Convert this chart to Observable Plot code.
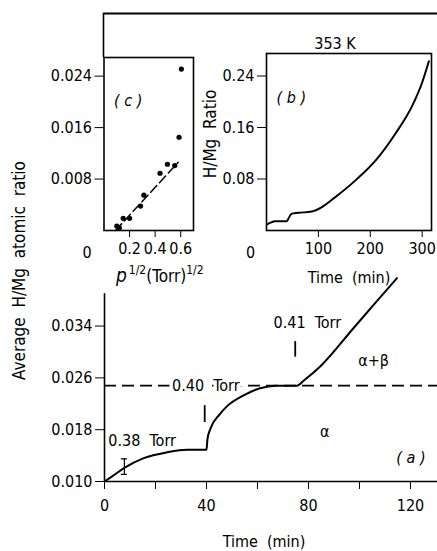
<!DOCTYPE html>
<html><head><meta charset="utf-8">
<script src="https://cdn.jsdelivr.net/npm/d3@7"></script>
<script src="https://cdn.jsdelivr.net/npm/@observablehq/plot@0.6"></script>
<style>
body{margin:0;background:#fff;}
#wrap{position:relative;width:437px;height:551px;overflow:hidden;background:#fff;}
#wrap svg{position:absolute;left:0;top:0;}
</style></head><body><div id="wrap"></div>
<script>
// ---------- Panel (a): average H/Mg ratio vs time ----------
const timeA  = [0, 3, 7.8, 15.4, 24.5, 32.4, 40, 40.4, 41.6, 45, 48, 54.6, 61, 67, 75.5, 78.2, 84.7, 97.7, 106.9, 114.7];
const ratioA = [0.010, 0.0108, 0.0121, 0.0136, 0.0145, 0.0149, 0.0149, 0.0166, 0.0182, 0.0203, 0.0216, 0.0233, 0.0244, 0.0248, 0.0248, 0.0256, 0.0278, 0.0337, 0.0379, 0.0414];
const boundaryA = 0.0248;              // alpha / alpha+beta boundary
const axisTopA = 0.039;
const errT = [7.8], errLo = [0.0111], errHi = [0.0135];
const errCapHalf = 1.2;
const markT = [39.3, 74.8], markLo = [0.0191, 0.0292], markHi = [0.0217, 0.0316];
const annText = ["0.38\u00a0\u00a0Torr", "0.40\u00a0\u00a0Torr", "0.41\u00a0\u00a0Torr", "\u03b1+\u03b2", "\u03b1"];
const annT    = [1.5, 26.5, 66.3, 99.5, 84.5];
const annV    = [0.0163, 0.0248, 0.0345, 0.0287, 0.0176];
const xTicksA = [0, 20, 40, 60, 80, 100, 120];
const xLabelsA = [0, 40, 80, 120];
const yTicksA = [0.010, 0.018, 0.026, 0.034];

// ---------- Panel (b): H/Mg ratio vs time at 353 K ----------
const timeB  = [1, 3, 16, 39, 42, 48, 61, 87, 106, 132, 171, 210, 248, 281, 300, 313];
const ratioB = [0.0095, 0.0102, 0.0143, 0.0143, 0.018, 0.0258, 0.0274, 0.0294, 0.036, 0.0515, 0.0775, 0.1085, 0.150, 0.194, 0.230, 0.263];
const xTicksB = [100, 200, 300];
const yTicksB = [0.08, 0.16, 0.24];

// ---------- Panel (c): H/Mg vs p^1/2 ----------
const sqrtP  = [0.10, 0.12, 0.15, 0.20, 0.286, 0.312, 0.438, 0.496, 0.553, 0.587, 0.605];
const ratioC = [0.0007, 0.0004, 0.0019, 0.0019, 0.0038, 0.0055, 0.0089, 0.0103, 0.0101, 0.0145, 0.0251];
const fitP = [0.09, 0.58], fitH = [0.0, 0.0106];
const xTicksC = [0.2, 0.4, 0.6];
const yTicksC = [0.008, 0.016, 0.024];

const FONT = "'DejaVu Sans Condensed','DejaVu Sans',sans-serif";
const W = 437, H = 551;
const baseStyle = {fontFamily: FONT, fontSize: "16px", background: "transparent", color: "#000", overflow: "visible"};
const wrap = document.getElementById("wrap");
const T = {fontSize: 16, lineAnchor: "middle"};

const curveA = timeA.map((t, i) => ({t, v: ratioA[i]}));
const annA = annText.map((label, i) => ({label, t: annT[i], v: annV[i]}));
const errA = errT.map((t, i) => ({t, lo: errLo[i], hi: errHi[i]}));
const marksA = markT.map((t, i) => ({t, lo: markLo[i], hi: markHi[i]}));

const plotA = Plot.plot({
  width: W, height: H,
  marginLeft: 104, marginRight: 0, marginTop: 277, marginBottom: 70,
  style: baseStyle,
  x: {type: "linear", domain: [0, 130.6], ticks: xTicksA, tickFormat: d => xLabelsA.includes(d) ? String(d) : "", tickSize: 8, tickPadding: 10, label: null},
  y: {type: "linear", domain: [0.010, 0.0415], ticks: yTicksA, tickFormat: d3.format(".3f"), tickSize: 9, tickPadding: 3, label: null},
  marks: [
    Plot.ruleY([boundaryA], {strokeDasharray: "12,6", strokeWidth: 1.6}),
    Plot.text(annA, {...T, x: "t", y: "v", text: "label", textAnchor: "start", fill: "white", stroke: "white", strokeWidth: 7}),
    Plot.text(annA, {...T, x: "t", y: "v", text: "label", textAnchor: "start", fill: "black"}),
    Plot.text(["( a )"], {...T, frameAnchor: "bottom-right", dx: -12, dy: -24, fontStyle: "italic", textAnchor: "end"}),
    Plot.ruleX([0], {y1: 0.010, y2: axisTopA, strokeWidth: 1.6}),
    Plot.ruleY([0.010], {strokeWidth: 1.6}),
    Plot.ruleX(errA, {x: "t", y1: "lo", y2: "hi", strokeWidth: 1.2}),
    Plot.ruleY(errA, {y: "lo", x1: d => d.t - errCapHalf, x2: d => d.t + errCapHalf, strokeWidth: 1.2}),
    Plot.ruleY(errA, {y: "hi", x1: d => d.t - errCapHalf, x2: d => d.t + errCapHalf, strokeWidth: 1.2}),
    Plot.ruleX(marksA, {x: "t", y1: "lo", y2: "hi", strokeWidth: 1.8}),
    Plot.line(curveA, {x: "t", y: "v", curve: "monotone-x", strokeWidth: 2}),
    Plot.text(["Average\u00a0\u00a0H/Mg\u00a0\u00a0atomic\u00a0\u00a0ratio"], {...T, fontSize: 17, frameAnchor: "top-left", textAnchor: "middle", rotate: -90, dx: -85, dy: -7}),
    Plot.text(["Time\u00a0\u00a0(min)"], {...T, frameAnchor: "bottom", textAnchor: "middle", dx: -7, dy: 60})
  ]
});
wrap.appendChild(plotA);

// header frame with 353 K
const plotH = Plot.plot({
  width: W, height: H, marginLeft: 103, marginRight: 0, marginTop: 13, marginBottom: 494,
  style: baseStyle,
  x: {domain: [0, 1], axis: null}, y: {domain: [0, 1], axis: null},
  marks: [Plot.ruleY([1], {strokeWidth: 1.8}), Plot.ruleX([0], {strokeWidth: 1.6})]
});
wrap.appendChild(plotH);

// panel b
const curveB = timeB.map((t, i) => ({t, v: ratioB[i]}));
const plotB = Plot.plot({
  width: W, height: H, marginLeft: 266, marginRight: 6, marginTop: 53, marginBottom: 321,
  style: baseStyle,
  x: {domain: [0, 318], ticks: xTicksB, tickSize: 7, tickPadding: 5, label: null},
  y: {domain: [0, 0.275], ticks: yTicksB, tickFormat: d3.format(".2f"), tickSize: 9, tickPadding: 3, label: null},
  marks: [
    Plot.frame({strokeWidth: 1.6}),
    Plot.line(curveB, {x: "t", y: "v", curve: "monotone-x", strokeWidth: 2}),
    Plot.text(["( b )"], {...T, frameAnchor: "top-left", dx: 10, dy: 44, fontStyle: "italic", textAnchor: "start"}),
    Plot.text(["353\u00a0K"], {...T, frameAnchor: "top", textAnchor: "middle", dx: -14, dy: -10}),
    Plot.text(["0"], {...T, frameAnchor: "bottom-left", textAnchor: "middle", dx: -16, dy: 22}),
    Plot.text(["Time\u00a0\u00a0(min)"], {...T, frameAnchor: "bottom", textAnchor: "middle", dy: 47}),
    Plot.text(["H/Mg\u00a0\u00a0Ratio"], {...T, fontSize: 17, frameAnchor: "left", textAnchor: "middle", rotate: -90, dx: -56, dy: -8})
  ]
});
wrap.appendChild(plotB);

// panel c
const ptsC = sqrtP.map((p, i) => ({p, v: ratioC[i]}));
const fitC = fitP.map((p, i) => ({p, v: fitH[i]}));
const plotC = Plot.plot({
  width: W, height: H, marginLeft: 103.5, marginRight: 244, marginTop: 57, marginBottom: 321,
  style: baseStyle,
  x: {domain: [0, 0.70], ticks: xTicksC, tickFormat: d3.format(".1f"), tickSize: 7, tickPadding: 5, label: null},
  y: {domain: [0, 0.0269], ticks: yTicksC, tickFormat: d3.format(".3f"), tickSize: 9, tickPadding: 3, label: null},
  marks: [
    Plot.frame({strokeWidth: 1.6}),
    Plot.line(fitC, {x: "p", y: "v", strokeDasharray: "9,4", strokeWidth: 1.5}),
    Plot.dot(ptsC, {x: "p", y: "v", r: 2.6, fill: "black", stroke: null}),
    Plot.text(["( c )"], {...T, frameAnchor: "top-left", dx: 10, dy: 43, fontStyle: "italic", textAnchor: "start"}),
    Plot.text(["0"], {...T, frameAnchor: "bottom-left", textAnchor: "middle", dx: -17, dy: 22})
  ]
});
wrap.appendChild(plotC);

// x label for panel c with superscripts
{
  const svg = d3.select(plotC);
  const t = svg.append("text").attr("x", 116).attr("y", 282).attr("text-anchor", "start")
    .attr("font-family", FONT).attr("font-size", 17).attr("fill", "black");
  t.append("tspan").attr("font-style", "italic").attr("font-size", 19).text("p");
  t.append("tspan").attr("dx", 2).attr("dy", -8).attr("font-size", 12).text("1/2");
  t.append("tspan").attr("dy", 8).text("(Torr)");
  t.append("tspan").attr("dy", -8).attr("font-size", 12).text("1/2");
}
</script></body></html>
